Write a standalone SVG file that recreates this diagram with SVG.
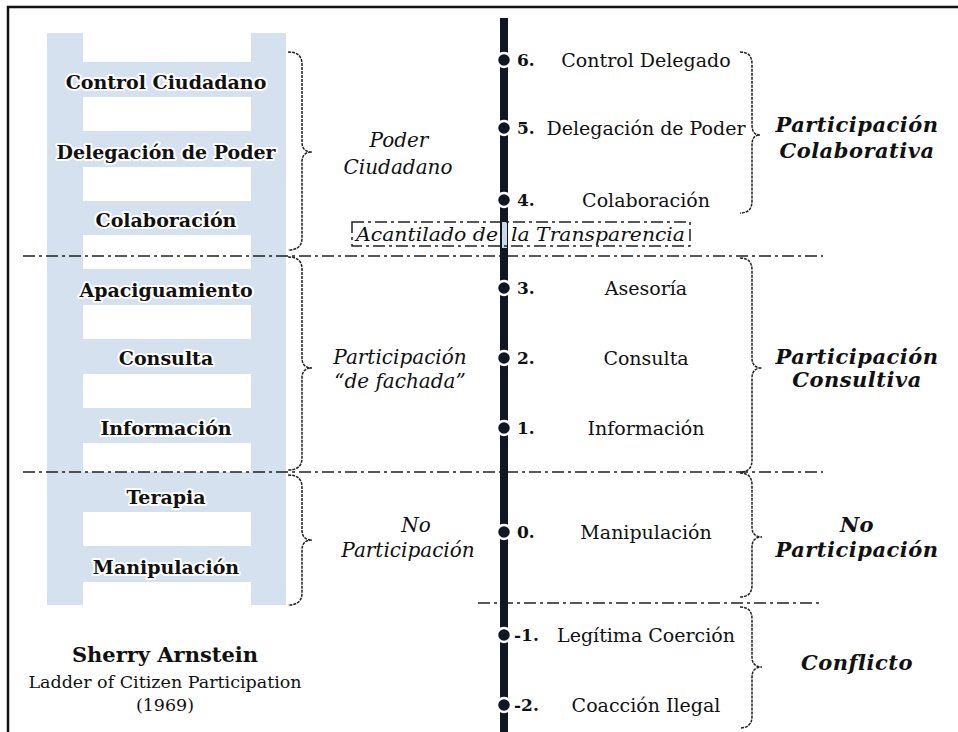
<svg xmlns="http://www.w3.org/2000/svg" width="958" height="732" viewBox="0 0 958 732">
<style>
text{font-family:"DejaVu Serif","Liberation Serif",serif;fill:#111;}
.lad{font-size:19px;font-weight:bold;text-anchor:middle;stroke:#fff;stroke-width:4;stroke-linejoin:round;paint-order:stroke;}
.it{font-size:20px;font-style:italic;text-anchor:middle;}
.cl{font-size:18px;font-style:italic;}
.bi{font-size:21px;font-style:italic;font-weight:bold;text-anchor:middle;letter-spacing:0.5px;}
.num{font-size:17px;font-weight:bold;}
.desc{font-size:19px;text-anchor:middle;}
.brace{fill:none;stroke:#222;stroke-width:1.5;stroke-dasharray:3 1;}
.dd{fill:none;stroke:#222;stroke-width:1.5;stroke-dasharray:12 4 3 4;}
.gap{fill:#fff;}
.dot{fill:#0f1722;stroke:#fff;stroke-width:2.5;}
</style>
<rect x="8" y="7" width="960" height="740" fill="#fff" stroke="#111" stroke-width="2.5"/>
<g id="ladder">
<rect x="47" y="33" width="239" height="572" fill="#d5e1ee"/>
<rect class="gap" x="83" y="33" width="168" height="29"/>
<rect class="gap" x="83" y="97" width="168" height="34"/>
<rect class="gap" x="83" y="167" width="168" height="34"/>
<rect class="gap" x="83" y="235" width="168" height="34"/>
<rect class="gap" x="83" y="305" width="168" height="34"/>
<rect class="gap" x="83" y="374" width="168" height="34"/>
<rect class="gap" x="83" y="443" width="168" height="29"/>
<rect class="gap" x="83" y="512" width="168" height="34"/>
<rect class="gap" x="83" y="582" width="168" height="23"/>
<text class="lad" x="166" y="89">Control Ciudadano</text>
<text class="lad" x="166" y="159">Delegación de Poder</text>
<text class="lad" x="166" y="227">Colaboración</text>
<text class="lad" x="166" y="297">Apaciguamiento</text>
<text class="lad" x="166" y="365">Consulta</text>
<text class="lad" x="166" y="435">Información</text>
<text class="lad" x="166" y="504">Terapia</text>
<text class="lad" x="166" y="574">Manipulación</text>
</g>
<g id="credit">
<text x="165" y="662" font-size="21" font-weight="bold" text-anchor="middle">Sherry Arnstein</text>
<text x="165" y="688" font-size="17.5" text-anchor="middle">Ladder of Citizen Participation</text>
<text x="165" y="711" font-size="17.5" text-anchor="middle">(1969)</text>
</g>
<g id="connectors">
<line class="dd" x1="23" y1="256" x2="823" y2="256"/>
<line class="dd" x1="23" y1="472" x2="823" y2="472"/>
<line class="dd" x1="478" y1="603" x2="820" y2="603"/>
<rect x="500" y="18" width="8" height="720" fill="#0f1722"/>
<rect x="502" y="222" width="5" height="26" fill="#c9d8ea"/>
<path class="brace" d="M288,52 Q302,52 302,64 L302,142 Q302,152 312,152 Q302,152 302,162 L302,238 Q302,250 288,250"/>
<path class="brace" d="M288,257 Q302,257 302,269 L302,358 Q302,368 312,368 Q302,368 302,378 L302,458 Q302,470 288,470"/>
<path class="brace" d="M288,475 Q302,475 302,487 L302,530 Q302,540 312,540 Q302,540 302,550 L302,593 Q302,605 288,605"/>
<path class="brace" d="M740,52 Q752,52 752,64 L752,125 Q752,135 760,135 Q752,135 752,145 L752,201 Q752,213 740,213"/>
<path class="brace" d="M740,258 Q752,258 752,270 L752,358 Q752,368 762,368 Q752,368 752,378 L752,460 Q752,472 740,472"/>
<path class="brace" d="M740,473 Q752,473 752,485 L752,527 Q752,537 762,537 Q752,537 752,547 L752,585 Q752,597 740,597"/>
<path class="brace" d="M740,607 Q752,607 752,619 L752,657 Q752,667 762,667 Q752,667 752,677 L752,716 Q752,728 740,728"/>
</g>
<g id="cliff">
<rect class="dd" x="352" y="222" width="338" height="24"/>
<text class="cl" x="356" y="241" textLength="142" lengthAdjust="spacingAndGlyphs">Acantilado de</text>
<text class="cl" x="511" y="241" textLength="174" lengthAdjust="spacingAndGlyphs">la Transparencia</text>
</g>
<g id="groups-left">
<text class="it" x="399" y="147">Poder</text>
<text class="it" x="398" y="174">Ciudadano</text>
<text class="it" x="400" y="364">Participación</text>
<text class="it" x="400" y="388">“de fachada”</text>
<text class="it" x="416" y="532">No</text>
<text class="it" x="408" y="557">Participación</text>
</g>
<g id="steps">
<g id="s6"><circle class="dot" cx="504" cy="60" r="7"/><text class="num" x="517" y="66">6.</text><text class="desc" x="646" y="67">Control Delegado</text></g>
<g id="s5"><circle class="dot" cx="504" cy="128" r="7"/><text class="num" x="517" y="134">5.</text><text class="desc" x="646" y="135">Delegación de Poder</text></g>
<g id="s4"><circle class="dot" cx="504" cy="200" r="7"/><text class="num" x="517" y="206">4.</text><text class="desc" x="646" y="207">Colaboración</text></g>
<g id="s3"><circle class="dot" cx="504" cy="288" r="7"/><text class="num" x="517" y="294">3.</text><text class="desc" x="646" y="295">Asesoría</text></g>
<g id="s2"><circle class="dot" cx="504" cy="358" r="7"/><text class="num" x="517" y="364">2.</text><text class="desc" x="646" y="365">Consulta</text></g>
<g id="s1"><circle class="dot" cx="504" cy="428" r="7"/><text class="num" x="517" y="434">1.</text><text class="desc" x="646" y="435">Información</text></g>
<g id="s0"><circle class="dot" cx="504" cy="532" r="7"/><text class="num" x="517" y="538">0.</text><text class="desc" x="646" y="539">Manipulación</text></g>
<g id="sm1"><circle class="dot" cx="504" cy="635" r="7"/><text class="num" x="514" y="641">-1.</text><text class="desc" x="646" y="642">Legítima Coerción</text></g>
<g id="sm2"><circle class="dot" cx="504" cy="705" r="7"/><text class="num" x="514" y="711">-2.</text><text class="desc" x="646" y="712">Coacción Ilegal</text></g>
</g>
<g id="groups-right">
<text class="bi" x="857" y="132">Participación</text>
<text class="bi" x="857" y="158">Colaborativa</text>
<text class="bi" x="857" y="364">Participación</text>
<text class="bi" x="857" y="387">Consultiva</text>
<text class="bi" x="857" y="532">No</text>
<text class="bi" x="857" y="557">Participación</text>
<text class="bi" x="857" y="670">Conflicto</text>
</g>
</svg>
